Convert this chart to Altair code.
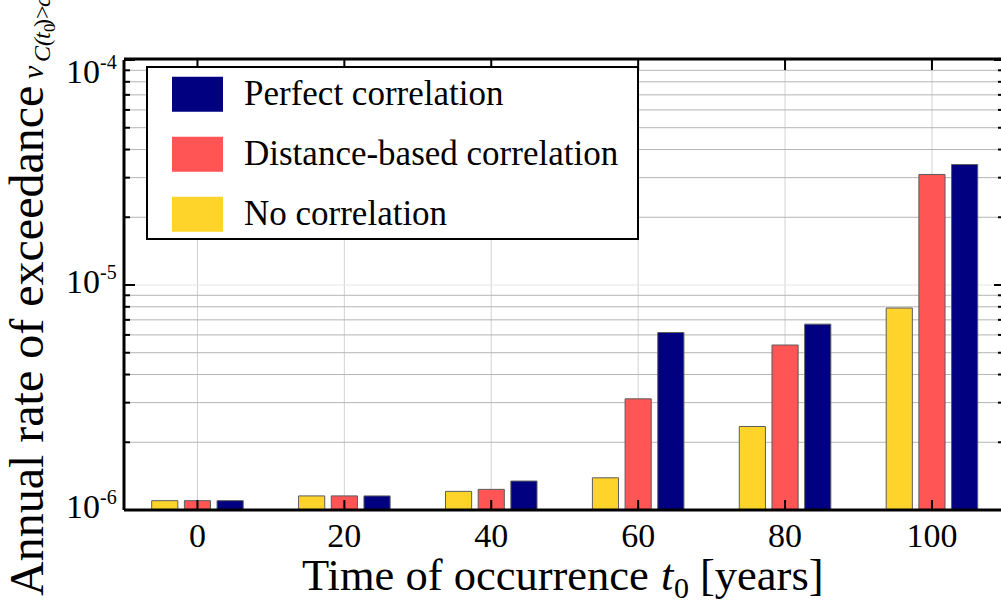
import json

import altair as alt
import pandas as pd

# Annual rate of exceedance per time of occurrence, one list per correlation model
times = [0, 20, 40, 60, 80, 100]
no_corr = [1.10e-6, 1.155e-6, 1.21e-6, 1.39e-6, 2.35e-6, 7.9e-6]
distance_corr = [1.10e-6, 1.155e-6, 1.235e-6, 3.12e-6, 5.41e-6, 3.10e-5]
perfect_corr = [1.10e-6, 1.155e-6, 1.345e-6, 6.15e-6, 6.70e-6, 3.43e-5]

series_names = ["No correlation", "Distance-based correlation", "Perfect correlation"]
series_colors = ["#FFD42A", "#FF5555", "#000080"]

x_ticks = [0, 20, 40, 60, 80, 100]
y_decades = [1e-6, 1e-5, 1e-4]
y_exponents = ["-6", "-5", "-4"]
y_minor = [m * d for d in [1e-6, 1e-5] for m in range(2, 10)]

FONT = "Liberation Serif, Times New Roman, Times, serif"
W, H = 877, 450

xs = alt.Scale(domain=[-10, 109.4], nice=False, zero=False)
ys = alt.Scale(type="log", domain=[1e-6, 1e-4], nice=False)

rows = []
for i, t in enumerate(times):
    for name, vals in zip(series_names, [no_corr, distance_corr, perfect_corr]):
        rows.append({"t": t, "series": name, "rate": vals[i]})
bars_df = pd.DataFrame(rows)

# gridlines
minor_grid = alt.Chart(pd.DataFrame({"v": y_minor})).mark_rule(
    color="#b4b4b4", strokeWidth=1
).encode(y=alt.Y("v:Q", scale=ys, axis=None))
major_grid = alt.Chart(pd.DataFrame({"v": y_decades})).mark_rule(
    color="#e6e6e6", strokeWidth=1
).encode(y=alt.Y("v:Q", scale=ys, axis=None))
x_grid = alt.Chart(pd.DataFrame({"t": x_ticks})).mark_rule(
    color="#d2d2d2", strokeWidth=1
).encode(x=alt.X("t:Q", scale=xs, axis=None))

# grouped bars: three slots around each time value
bars = (
    alt.Chart(bars_df)
    .transform_calculate(slot="indexof(" + json.dumps(series_names) + ", datum.series) - 1")
    .transform_calculate(
        x0="datum.t + datum.slot * 4.45 - 1.78",
        x1="datum.t + datum.slot * 4.45 + 1.78",
    )
    .mark_bar(stroke="#5c5c5c", strokeWidth=1)
    .encode(
        x=alt.X("x0:Q", scale=xs, axis=None),
        x2="x1:Q",
        y=alt.Y("rate:Q", scale=ys, axis=None),
        y2=alt.datum(1e-6),
        color=alt.Color(
            "series:N",
            scale=alt.Scale(domain=series_names, range=series_colors),
            legend=None,
        ),
    )
)

# inward ticks on all sides
tick_df = pd.DataFrame({"t": x_ticks})
bottom_ticks = alt.Chart(tick_df).mark_rule(color="black", strokeWidth=2).encode(
    x=alt.X("t:Q", scale=xs, axis=None), y=alt.value(H), y2=alt.value(H - 10)
)
top_ticks = alt.Chart(tick_df).mark_rule(color="black", strokeWidth=2).encode(
    x=alt.X("t:Q", scale=xs, axis=None), y=alt.value(0), y2=alt.value(10)
)
dec_df = pd.DataFrame({"v": y_decades, "e": y_exponents})
min_df = pd.DataFrame({"v": y_minor})
left_major = alt.Chart(dec_df).mark_rule(color="black", strokeWidth=2).encode(
    y=alt.Y("v:Q", scale=ys, axis=None), x=alt.value(0), x2=alt.value(11)
)
left_minor = alt.Chart(min_df).mark_rule(color="black", strokeWidth=2).encode(
    y=alt.Y("v:Q", scale=ys, axis=None), x=alt.value(0), x2=alt.value(6)
)
right_major = alt.Chart(dec_df).mark_rule(color="black", strokeWidth=2).encode(
    y=alt.Y("v:Q", scale=ys, axis=None), x=alt.value(W), x2=alt.value(W - 7)
)
right_minor = alt.Chart(min_df).mark_rule(color="black", strokeWidth=2).encode(
    y=alt.Y("v:Q", scale=ys, axis=None), x=alt.value(W), x2=alt.value(W - 3)
)

# frame
frame_df = pd.DataFrame({"k": [0]})
left_spine = alt.Chart(frame_df).mark_rule(color="black", strokeWidth=3).encode(
    x=alt.value(0), y=alt.value(0), y2=alt.value(H)
)
bottom_spine = alt.Chart(frame_df).mark_rule(color="black", strokeWidth=3).encode(
    x=alt.value(0), x2=alt.value(W), y=alt.value(H)
)
top_spine = alt.Chart(frame_df).mark_rule(color="black", strokeWidth=3).encode(
    x=alt.value(0), x2=alt.value(W), y=alt.value(-1)
)

# tick labels
x_labels = alt.Chart(tick_df).mark_text(
    font=FONT, fontSize=34, baseline="alphabetic", align="center", color="black"
).encode(x=alt.X("t:Q", scale=xs, axis=None), y=alt.value(487), text="t:Q")

low_dec = dec_df[dec_df["v"] < 5e-5]
top_dec = dec_df[dec_df["v"] > 5e-5]
ten_low = alt.Chart(low_dec).mark_text(
    font=FONT, fontSize=34, baseline="middle", align="right", dy=-2, color="black"
).encode(y=alt.Y("v:Q", scale=ys, axis=None), x=alt.value(-24), text=alt.value("10"))
exp_low = alt.Chart(low_dec).mark_text(
    font=FONT, fontSize=20, baseline="middle", align="left", dy=-12, color="black"
).encode(y=alt.Y("v:Q", scale=ys, axis=None), x=alt.value(-24), text="e:N")
ten_top = alt.Chart(top_dec).mark_text(
    font=FONT, fontSize=34, baseline="middle", align="right", dy=13, color="black"
).encode(y=alt.Y("v:Q", scale=ys, axis=None), x=alt.value(-24), text=alt.value("10"))
exp_top = alt.Chart(top_dec).mark_text(
    font=FONT, fontSize=20, baseline="middle", align="left", dy=3, color="black"
).encode(y=alt.Y("v:Q", scale=ys, axis=None), x=alt.value(-24), text="e:N")


def label(text, x, y, size, style="normal", align="left", angle=0):
    return alt.Chart(pd.DataFrame({"s": [text]})).mark_text(
        font=FONT, fontSize=size, fontStyle=style, align=align,
        baseline="alphabetic", angle=angle, color="black",
    ).encode(x=alt.value(x), y=alt.value(y), text="s:N")


# x-axis title: Time of occurrence t0 [years]
x_title = [
    label("Time of occurrence", 178, 530, 44.5),
    label("t", 537, 530, 44.5, style="italic"),
    label("0", 550, 538, 30),
    label("[years]", 576, 530, 44.5),
]

# y-axis title: Annual rate of exceedance nu_{C(t0)>c}
y_title = [
    label("Annual rate of exceedance", -81, 536, 48, angle=270),
    label("ν", -81, 19, 30, style="italic", angle=270),
    label("C(", -74, 2, 24, style="italic", angle=270),
    label("t", -74, -21, 24, style="italic", angle=270),
    label("0", -69, -28, 17, angle=270),
    label(")>", -74, -33, 24, angle=270),
    label("c", -74, -53, 24, style="italic", angle=270),
]

# legend box with swatches, top entry first
legend_layers = [
    alt.Chart(frame_df).mark_rect(fill="white", stroke="black", strokeWidth=2).encode(
        x=alt.value(23), x2=alt.value(514), y=alt.value(7), y2=alt.value(179)
    )
]
for i, (name, col) in enumerate(zip(series_names[::-1], series_colors[::-1])):
    top = 16.7 + i * 60
    legend_layers.append(
        alt.Chart(pd.DataFrame({"s": [name]})).mark_rect(fill=col).encode(
            x=alt.value(48), x2=alt.value(99), y=alt.value(top), y2=alt.value(top + 35)
        )
    )
    legend_layers.append(label(name, 120, top + 28.5, 35))

chart = alt.layer(
    x_grid, minor_grid, major_grid, bars,
    bottom_ticks, top_ticks, left_major, left_minor, right_major, right_minor,
    left_spine, bottom_spine, top_spine,
    x_labels, ten_low, exp_low, ten_top, exp_top,
    *x_title, *y_title, *legend_layers,
).properties(
    width=W,
    height=H,
    autosize=alt.AutoSizeParams(type="none"),
    padding={"left": 124, "top": 60, "right": 0, "bottom": 100},
    background="white",
).configure_view(stroke=None)

chart.save("out.html", embed_options={"renderer": "svg", "actions": False})
